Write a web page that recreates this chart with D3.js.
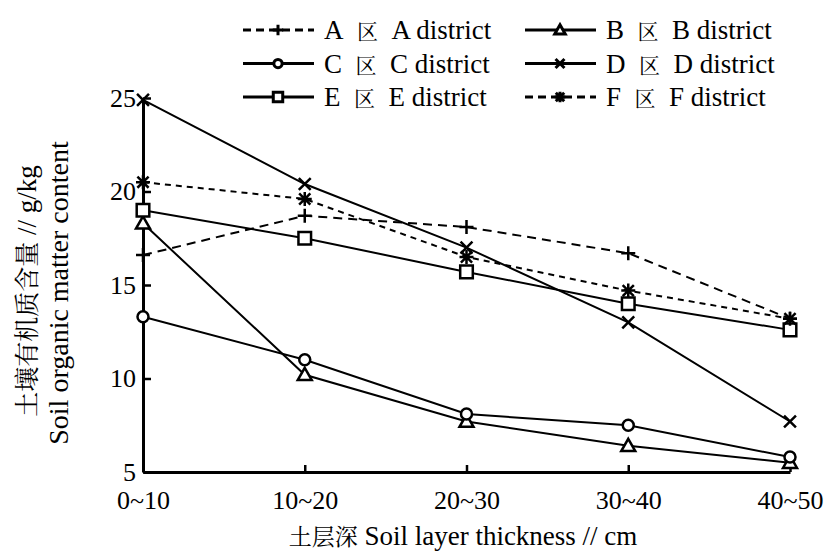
<!DOCTYPE html>
<html>
<head>
<meta charset="utf-8">
<script src="https://cdn.jsdelivr.net/npm/d3@7"></script>
<style>
  body { margin: 0; background: #fff; }
</style>
</head>
<body>
<div id="chart"></div>
<script>
// soil layers (x) and y ticks
const layers = ["0~10", "10~20", "20~30", "30~40", "40~50"]
const yTicks = [5, 10, 15, 20, 25]

// soil organic matter content, g/kg
const districtA = [16.6, 18.7, 18.1, 16.7, 13.2]
const districtB = [18.3, 10.2, 7.7, 6.4, 5.5]
const districtC = [13.3, 11.0, 8.1, 7.5, 5.8]
const districtD = [24.9, 20.4, 17.0, 13.0, 7.7]
const districtE = [19.0, 17.5, 15.7, 14.0, 12.6]
const districtF = [20.5, 19.6, 16.5, 14.7, 13.2]

const names = ["A", "B", "C", "D", "E", "F"]
const values = [districtA, districtB, districtC, districtD, districtE, districtF]
const markers = ["plus", "triangle", "circle", "times", "square", "asterisk"]
const dashes = ["9,6", null, null, null, null, "6,5"]

const width = 835
const height = 555
const serif = "'Liberation Serif'"
const cjkFont = "'Noto Serif CJK SC'"
const nb = "\u00A0"

const svg = d3.select("#chart")
    .append("svg")
    .attr("width", width)
    .attr("height", height)
    .attr("viewBox", [0, 0, width, height])

const x = d3.scalePoint().domain(layers).range([143, 790])
const y = d3.scaleLinear().domain([5, 25]).range([472, 98])

// one text element, chinese parts as tspans
function label(parent, parts, px, py, opts = {}) {
    const t = parent.append("text")
        .attr("transform", `translate(${px},${py}) rotate(${opts.rotate || 0})`)
        .attr("text-anchor", opts.anchor || "start")
        .attr("fill", "#000")
        .style("font-family", serif)
        .style("font-size", (opts.size || 26) + "px")
    parts.forEach(p => {
        const s = t.append("tspan").text(p.s)
        if (p.cjk) s.style("font-family", cjkFont).style("font-size", (opts.cjk || 21) + "px")
    })
    return t
}

function symbolPath(type, s) {
    const r = 7 * s
    switch (type) {
        case "plus": return `M${-r},0H${r}M0,${-r}V${r}`
        case "times": return `M${-r*0.85},${-r*0.85}L${r*0.85},${r*0.85}M${-r*0.85},${r*0.85}L${r*0.85},${-r*0.85}`
        case "asterisk": {
            const a = r * 0.8
            return `M${-a},${-a}L${a},${a}M${-a},${a}L${a},${-a}M0,${-r}V${r}M${-r},0H${r}`
        }
        case "circle": return d3.symbol(d3.symbolCircle, Math.PI * (5.5 * s) ** 2)()
        case "square": return `M${-r*0.9},${-r*0.9}h${r*1.8}v${r*1.8}h${-r*1.8}Z`
        case "triangle": return `M0,${-r}L${r},${r*0.75}L${-r},${r*0.75}Z`
    }
}
const filled = t => ["circle", "square", "triangle"].includes(t)

const layer_axes = svg.append("g")
const layer_lines = svg.append("g")
const layer_legend = svg.append("g")

// axes
const yAxis = layer_axes.append("g")
    .attr("transform", `translate(${x.range()[0]},0)`)
    .call(d3.axisLeft(y).tickValues(yTicks).tickSize(-8).tickSizeOuter(0).tickPadding(7))
yAxis.select(".domain").attr("stroke-width", 3)
yAxis.selectAll(".tick line").attr("stroke-width", 2.5)
yAxis.selectAll(".tick text")
    .attr("fill", "#000")
    .style("font-family", serif)
    .style("font-size", "26px")

const xAxis = layer_axes.append("g")
    .attr("transform", `translate(0,${y(5)})`)
    .call(d3.axisBottom(x).tickSize(-7).tickSizeOuter(0).tickPadding(19))
xAxis.select(".domain").attr("stroke-width", 3)
xAxis.selectAll(".tick line").attr("stroke-width", 2.5)
xAxis.selectAll(".tick text")
    .attr("fill", "#000")
    .style("font-family", serif)
    .style("font-size", "26px")

// axis titles
label(svg, [{s: "土层深", cjk: true}, {s: nb + "Soil layer thickness // cm"}], 463, 545,
    {anchor: "middle", cjk: 23, size: 27})
label(svg, [{s: "土壤有机质含量", cjk: true}, {s: nb + "// g/kg"}], 36, 291,
    {anchor: "middle", rotate: -90, cjk: 25, size: 27})
label(svg, [{s: "Soil organic matter content"}], 68, 293,
    {anchor: "middle", rotate: -90, size: 28})

// series
const line = d3.line().x((d, i) => x(layers[i])).y(d => y(d))

names.forEach((n, k) => {
    const g = layer_lines.append("g")
    g.append("path")
        .attr("d", line(values[k]))
        .attr("fill", "none")
        .attr("stroke", "#000")
        .attr("stroke-width", 2)
        .attr("stroke-dasharray", dashes[k])
    g.selectAll("path.pt")
        .data(values[k])
        .enter()
        .append("path")
        .attr("class", "pt")
        .attr("transform", (d, i) => `translate(${x(layers[i])},${y(d)})`)
        .attr("d", symbolPath(markers[k], 1))
        .attr("fill", filled(markers[k]) ? "#fff" : "none")
        .attr("stroke", "#000")
        .attr("stroke-width", 2.5)
})

// legend
const legX = [243, 525]
const legY = [30, 63.5, 97]
names.forEach((n, k) => {
    const lx = legX[k % 2]
    const ly = legY[Math.floor(k / 2)]
    layer_legend.append("line")
        .attr("x1", lx).attr("x2", lx + 71)
        .attr("y1", ly).attr("y2", ly)
        .attr("stroke", "#000")
        .attr("stroke-width", 3)
        .attr("stroke-dasharray", dashes[k] ? "8,5" : null)
    layer_legend.append("path")
        .attr("transform", `translate(${lx + 35},${ly})`)
        .attr("d", symbolPath(markers[k], 0.75))
        .attr("fill", filled(markers[k]) ? "#fff" : "none")
        .attr("stroke", "#000")
        .attr("stroke-width", 3)
    label(layer_legend,
        [{s: n + nb + nb}, {s: "区", cjk: true}, {s: nb + nb + n + " district"}],
        lx + 81, ly + 9, {size: 27})
})
</script>
</body>
</html>
